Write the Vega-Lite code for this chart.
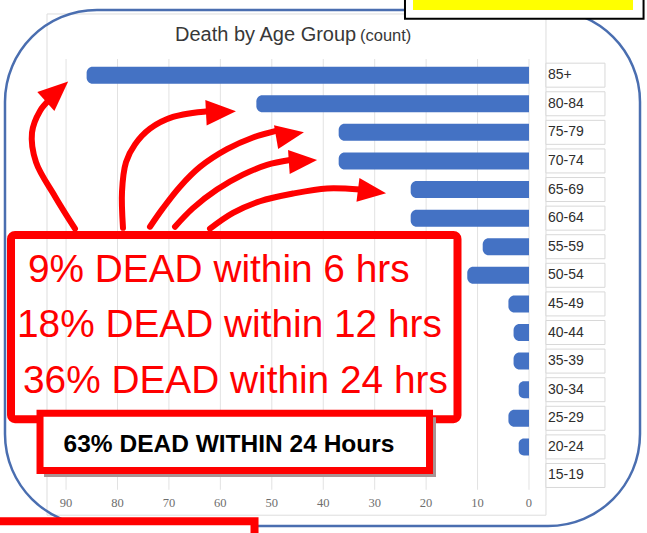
{
  "$schema": "https://vega.github.io/schema/vega-lite/v6.json",
  "width": 647,
  "height": 533,
  "autosize": "none",
  "padding": 0,
  "background": "white",
  "config": {"view": {"stroke": null}},
  "datasets": {
    "deaths": [
      {"group": "85+", "rank": 1, "deaths": 86},
      {"group": "80-84", "rank": 2, "deaths": 53},
      {"group": "75-79", "rank": 3, "deaths": 37},
      {"group": "70-74", "rank": 4, "deaths": 37},
      {"group": "65-69", "rank": 5, "deaths": 23},
      {"group": "60-64", "rank": 6, "deaths": 23},
      {"group": "55-59", "rank": 7, "deaths": 9},
      {"group": "50-54", "rank": 8, "deaths": 12},
      {"group": "45-49", "rank": 9, "deaths": 4},
      {"group": "40-44", "rank": 10, "deaths": 3},
      {"group": "35-39", "rank": 11, "deaths": 3},
      {"group": "30-34", "rank": 12, "deaths": 2},
      {"group": "25-29", "rank": 13, "deaths": 4},
      {"group": "20-24", "rank": 14, "deaths": 2},
      {"group": "15-19", "rank": 15, "deaths": 0}
    ],
    "ticks": [
      {"v": 0}, {"v": 10}, {"v": 20}, {"v": 30}, {"v": 40},
      {"v": 50}, {"v": 60}, {"v": 70}, {"v": 80}, {"v": 90}
    ]
  },
  "layer": [
    {
      "data": {"values": [{"x": 93.70, "x2": -3.30, "y": -1.14, "y2": 16.39}]},
      "mark": {"type": "rect", "fill": "white", "stroke": "#dddddd", "strokeWidth": 1},
      "encoding": {
        "x": {"field": "x", "type": "quantitative", "scale": {"domain": [-22.94, 102.84], "reverse": true, "nice": false, "zero": false}, "axis": null},
        "x2": {"field": "x2"},
        "y": {"field": "y", "type": "quantitative", "scale": {"domain": [-1.4537, 16.837], "reverse": true, "nice": false, "zero": false}, "axis": null},
        "y2": {"field": "y2"}
      }
    },
    {
      "data": {"name": "ticks"},
      "mark": {"type": "rule", "color": "#e2e2e2", "strokeWidth": 1},
      "encoding": {
        "x": {"field": "v", "type": "quantitative", "scale": {"domain": [-22.94, 102.84], "reverse": true, "nice": false, "zero": false}, "axis": null},
        "y": {"datum": 0.434, "type": "quantitative", "scale": {"domain": [-1.4537, 16.837], "reverse": true, "nice": false, "zero": false}, "axis": null},
        "y2": {"datum": 15.5}
      }
    },
    {
      "data": {"name": "deaths"},
      "mark": {"type": "bar", "orient": "horizontal", "size": 17, "color": "#4472c4", "cornerRadiusTopLeft": 6, "cornerRadiusBottomLeft": 6},
      "encoding": {
        "x": {"field": "deaths", "type": "quantitative", "scale": {"domain": [-22.94, 102.84], "reverse": true, "nice": false, "zero": false}, "axis": null},
        "x2": {"datum": 0},
        "y": {"field": "rank", "type": "quantitative", "scale": {"domain": [-1.4537, 16.837], "reverse": true, "nice": false, "zero": false}, "axis": null}
      }
    },
    {
      "data": {"name": "deaths"},
      "mark": {"type": "bar", "orient": "horizontal", "size": 24, "fill": "white", "stroke": "#d8d8d8", "strokeWidth": 1},
      "encoding": {
        "x": {"datum": -3.30, "type": "quantitative", "scale": {"domain": [-22.94, 102.84], "reverse": true, "nice": false, "zero": false}, "axis": null},
        "x2": {"datum": -14.77},
        "y": {"field": "rank", "type": "quantitative", "scale": {"domain": [-1.4537, 16.837], "reverse": true, "nice": false, "zero": false}, "axis": null}
      }
    },
    {
      "data": {"name": "deaths"},
      "mark": {"type": "text", "align": "left", "baseline": "middle", "font": "Liberation Sans", "fontSize": 14, "color": "#2e2e2e"},
      "encoding": {
        "x": {"datum": -3.69, "type": "quantitative", "scale": {"domain": [-22.94, 102.84], "reverse": true, "nice": false, "zero": false}, "axis": null},
        "y": {"field": "rank", "type": "quantitative", "scale": {"domain": [-1.4537, 16.837], "reverse": true, "nice": false, "zero": false}, "axis": null},
        "text": {"field": "group"}
      }
    },
    {
      "data": {"name": "ticks"},
      "mark": {"type": "text", "align": "center", "baseline": "middle", "font": "Liberation Serif", "fontSize": 12.5, "color": "#6e6e6e"},
      "encoding": {
        "x": {"field": "v", "type": "quantitative", "scale": {"domain": [-22.94, 102.84], "reverse": true, "nice": false, "zero": false}, "axis": null},
        "y": {"datum": 15.96, "type": "quantitative", "scale": {"domain": [-1.4537, 16.837], "reverse": true, "nice": false, "zero": false}, "axis": null},
        "text": {"field": "v"}
      }
    },
    {
      "data": {"values": [{"label": "Death by Age Group", "x": 68.82, "y": -0.18}]},
      "mark": {"type": "text", "align": "left", "baseline": "alphabetic", "font": "Liberation Sans", "fontSize": 20, "color": "#383838"},
      "encoding": {
        "x": {"field": "x", "type": "quantitative", "scale": {"domain": [-22.94, 102.84], "reverse": true, "nice": false, "zero": false}, "axis": null},
        "y": {"field": "y", "type": "quantitative", "scale": {"domain": [-1.4537, 16.837], "reverse": true, "nice": false, "zero": false}, "axis": null},
        "text": {"field": "label"}
      }
    },
    {
      "data": {"values": [{"label": "(count)", "x": 32.86, "y": -0.18}]},
      "mark": {"type": "text", "align": "left", "baseline": "alphabetic", "font": "Liberation Sans", "fontSize": 16.5, "color": "#383838"},
      "encoding": {
        "x": {"field": "x", "type": "quantitative", "scale": {"domain": [-22.94, 102.84], "reverse": true, "nice": false, "zero": false}, "axis": null},
        "y": {"field": "y", "type": "quantitative", "scale": {"domain": [-1.4537, 16.837], "reverse": true, "nice": false, "zero": false}, "axis": null},
        "text": {"field": "label"}
      }
    },
    {
      "data": {"values": [{"x": 101.87, "x2": -21.58, "y": -1.28, "y2": 16.77}]},
      "mark": {"type": "rect", "fill": null, "fillOpacity": 0, "stroke": "#4a6eb0", "strokeWidth": 2.5, "cornerRadius": 92},
      "encoding": {
        "x": {"field": "x", "type": "quantitative", "scale": {"domain": [-22.94, 102.84], "reverse": true, "nice": false, "zero": false}, "axis": null},
        "x2": {"field": "x2"},
        "y": {"field": "y", "type": "quantitative", "scale": {"domain": [-1.4537, 16.837], "reverse": true, "nice": false, "zero": false}, "axis": null},
        "y2": {"field": "y2"}
      }
    },
    {
      "data": {"values": [{"x": 100.70, "x2": 13.90, "y": 6.59, "y2": 13.03}]},
      "mark": {"type": "rect", "fill": null, "fillOpacity": 0, "stroke": "#ff0000", "strokeWidth": 8, "cornerRadius": 4},
      "encoding": {
        "x": {"field": "x", "type": "quantitative", "scale": {"domain": [-22.94, 102.84], "reverse": true, "nice": false, "zero": false}, "axis": null},
        "x2": {"field": "x2"},
        "y": {"field": "y", "type": "quantitative", "scale": {"domain": [-1.4537, 16.837], "reverse": true, "nice": false, "zero": false}, "axis": null},
        "y2": {"field": "y2"}
      }
    },
    {
      "data": {"values": [
        {"label": "9% DEAD within 6 hrs", "x": 97.40, "y": 8.22},
        {"label": "18% DEAD within 12 hrs", "x": 99.53, "y": 10.16},
        {"label": "36% DEAD within 24 hrs", "x": 98.37, "y": 12.10}
      ]},
      "mark": {"type": "text", "align": "left", "baseline": "alphabetic", "font": "Liberation Sans", "fontSize": 38.8, "color": "#ff0000"},
      "encoding": {
        "x": {"field": "x", "type": "quantitative", "scale": {"domain": [-22.94, 102.84], "reverse": true, "nice": false, "zero": false}, "axis": null},
        "y": {"field": "y", "type": "quantitative", "scale": {"domain": [-1.4537, 16.837], "reverse": true, "nice": false, "zero": false}, "axis": null},
        "text": {"field": "label"}
      }
    },
    {
      "data": {"values": [
        {"arrow": 1, "i": 1, "x": 88.26, "y": 6.37},
        {"arrow": 1, "i": 2, "x": 92.15, "y": 5.24},
        {"arrow": 1, "i": 3, "x": 95.84, "y": 4.04},
        {"arrow": 1, "i": 4, "x": 96.62, "y": 3.01},
        {"arrow": 1, "i": 5, "x": 95.06, "y": 2.25},
        {"arrow": 1, "i": 6, "x": 93.12, "y": 1.84},
        {"arrow": 2, "i": 1, "x": 78.93, "y": 6.34},
        {"arrow": 2, "i": 2, "x": 79.12, "y": 5.07},
        {"arrow": 2, "i": 3, "x": 78.34, "y": 4.04},
        {"arrow": 2, "i": 4, "x": 76.59, "y": 3.42},
        {"arrow": 2, "i": 5, "x": 73.68, "y": 2.87},
        {"arrow": 2, "i": 6, "x": 69.21, "y": 2.46},
        {"arrow": 2, "i": 7, "x": 62.01, "y": 2.25},
        {"arrow": 3, "i": 1, "x": 73.68, "y": 6.30},
        {"arrow": 3, "i": 2, "x": 71.15, "y": 5.65},
        {"arrow": 3, "i": 3, "x": 67.85, "y": 4.90},
        {"arrow": 3, "i": 4, "x": 63.96, "y": 4.21},
        {"arrow": 3, "i": 5, "x": 58.71, "y": 3.59},
        {"arrow": 3, "i": 6, "x": 53.65, "y": 3.18},
        {"arrow": 3, "i": 7, "x": 48.99, "y": 2.94},
        {"arrow": 4, "i": 1, "x": 68.82, "y": 6.30},
        {"arrow": 4, "i": 2, "x": 65.32, "y": 5.65},
        {"arrow": 4, "i": 3, "x": 60.65, "y": 5.00},
        {"arrow": 4, "i": 4, "x": 55.60, "y": 4.48},
        {"arrow": 4, "i": 5, "x": 50.93, "y": 4.14},
        {"arrow": 4, "i": 6, "x": 46.46, "y": 3.97},
        {"arrow": 5, "i": 1, "x": 62.01, "y": 6.37},
        {"arrow": 5, "i": 2, "x": 57.54, "y": 5.82},
        {"arrow": 5, "i": 3, "x": 52.29, "y": 5.41},
        {"arrow": 5, "i": 4, "x": 45.88, "y": 5.14},
        {"arrow": 5, "i": 5, "x": 39.27, "y": 4.96},
        {"arrow": 5, "i": 6, "x": 32.85, "y": 5.00}
      ]},
      "mark": {"type": "line", "color": "#ff0000", "strokeWidth": 6, "strokeCap": "round", "interpolate": "catmull-rom"},
      "encoding": {
        "x": {"field": "x", "type": "quantitative", "scale": {"domain": [-22.94, 102.84], "reverse": true, "nice": false, "zero": false}, "axis": null},
        "y": {"field": "y", "type": "quantitative", "scale": {"domain": [-1.4537, 16.837], "reverse": true, "nice": false, "zero": false}, "axis": null},
        "detail": {"field": "arrow", "type": "nominal"},
        "order": {"field": "i", "type": "quantitative"}
      }
    },
    {
      "data": {"values": [{"x": 91.76, "y": 1.57}]},
      "mark": {"type": "point", "shape": "M1,0L-1,-0.85L-1,0.85Z", "size": 900, "filled": true, "color": "#ff0000", "opacity": 1, "angle": -42},
      "encoding": {
        "x": {"field": "x", "type": "quantitative", "scale": {"domain": [-22.94, 102.84], "reverse": true, "nice": false, "zero": false}, "axis": null},
        "y": {"field": "y", "type": "quantitative", "scale": {"domain": [-1.4537, 16.837], "reverse": true, "nice": false, "zero": false}, "axis": null}
      }
    },
    {
      "data": {"values": [{"x": 59.88, "y": 2.29}]},
      "mark": {"type": "point", "shape": "M1,0L-1,-0.85L-1,0.85Z", "size": 900, "filled": true, "color": "#ff0000", "opacity": 1, "angle": -3},
      "encoding": {
        "x": {"field": "x", "type": "quantitative", "scale": {"domain": [-22.94, 102.84], "reverse": true, "nice": false, "zero": false}, "axis": null},
        "y": {"field": "y", "type": "quantitative", "scale": {"domain": [-1.4537, 16.837], "reverse": true, "nice": false, "zero": false}, "axis": null}
      }
    },
    {
      "data": {"values": [{"x": 46.46, "y": 3.08}]},
      "mark": {"type": "point", "shape": "M1,0L-1,-0.85L-1,0.85Z", "size": 800, "filled": true, "color": "#ff0000", "opacity": 1, "angle": -10},
      "encoding": {
        "x": {"field": "x", "type": "quantitative", "scale": {"domain": [-22.94, 102.84], "reverse": true, "nice": false, "zero": false}, "axis": null},
        "y": {"field": "y", "type": "quantitative", "scale": {"domain": [-1.4537, 16.837], "reverse": true, "nice": false, "zero": false}, "axis": null}
      }
    },
    {
      "data": {"values": [{"x": 43.94, "y": 4.00}]},
      "mark": {"type": "point", "shape": "M1,0L-1,-0.85L-1,0.85Z", "size": 800, "filled": true, "color": "#ff0000", "opacity": 1, "angle": -4},
      "encoding": {
        "x": {"field": "x", "type": "quantitative", "scale": {"domain": [-22.94, 102.84], "reverse": true, "nice": false, "zero": false}, "axis": null},
        "y": {"field": "y", "type": "quantitative", "scale": {"domain": [-1.4537, 16.837], "reverse": true, "nice": false, "zero": false}, "axis": null}
      }
    },
    {
      "data": {"values": [{"x": 30.52, "y": 5.07}]},
      "mark": {"type": "point", "shape": "M1,0L-1,-0.85L-1,0.85Z", "size": 800, "filled": true, "color": "#ff0000", "opacity": 1, "angle": 7},
      "encoding": {
        "x": {"field": "x", "type": "quantitative", "scale": {"domain": [-22.94, 102.84], "reverse": true, "nice": false, "zero": false}, "axis": null},
        "y": {"field": "y", "type": "quantitative", "scale": {"domain": [-1.4537, 16.837], "reverse": true, "nice": false, "zero": false}, "axis": null}
      }
    },
    {
      "data": {"values": [{"x": 94.28, "x2": 18.08, "y": 12.96, "y2": 15.05}]},
      "mark": {"type": "rect", "fill": "#a89494", "stroke": null},
      "encoding": {
        "x": {"field": "x", "type": "quantitative", "scale": {"domain": [-22.94, 102.84], "reverse": true, "nice": false, "zero": false}, "axis": null},
        "x2": {"field": "x2"},
        "y": {"field": "y", "type": "quantitative", "scale": {"domain": [-1.4537, 16.837], "reverse": true, "nice": false, "zero": false}, "axis": null},
        "y2": {"field": "y2"}
      }
    },
    {
      "data": {"values": [{"x": 95.06, "x2": 19.34, "y": 12.82, "y2": 14.83}]},
      "mark": {"type": "rect", "fill": "white", "stroke": "#ff0000", "strokeWidth": 7},
      "encoding": {
        "x": {"field": "x", "type": "quantitative", "scale": {"domain": [-22.94, 102.84], "reverse": true, "nice": false, "zero": false}, "axis": null},
        "x2": {"field": "x2"},
        "y": {"field": "y", "type": "quantitative", "scale": {"domain": [-1.4537, 16.837], "reverse": true, "nice": false, "zero": false}, "axis": null},
        "y2": {"field": "y2"}
      }
    },
    {
      "data": {"values": [{"label": "63% DEAD WITHIN 24 Hours", "x": 58.32, "y": 13.92}]},
      "mark": {"type": "text", "align": "center", "baseline": "middle", "font": "Liberation Sans", "fontWeight": "bold", "fontSize": 24.5, "color": "#000000"},
      "encoding": {
        "x": {"field": "x", "type": "quantitative", "scale": {"domain": [-22.94, 102.84], "reverse": true, "nice": false, "zero": false}, "axis": null},
        "y": {"field": "y", "type": "quantitative", "scale": {"domain": [-1.4537, 16.837], "reverse": true, "nice": false, "zero": false}, "axis": null},
        "text": {"field": "label"}
      }
    },
    {
      "data": {"values": [{"x": 24.11, "x2": -22.27, "y": -2.14, "y2": -0.97}]},
      "mark": {"type": "rect", "fill": "white", "stroke": "#000000", "strokeWidth": 2},
      "encoding": {
        "x": {"field": "x", "type": "quantitative", "scale": {"domain": [-22.94, 102.84], "reverse": true, "nice": false, "zero": false}, "axis": null},
        "x2": {"field": "x2"},
        "y": {"field": "y", "type": "quantitative", "scale": {"domain": [-1.4537, 16.837], "reverse": true, "nice": false, "zero": false}, "axis": null},
        "y2": {"field": "y2"}
      }
    },
    {
      "data": {"values": [{"x": 22.55, "x2": -20.22, "y": -1.80, "y2": -1.28}]},
      "mark": {"type": "rect", "fill": "#ffff00", "stroke": null},
      "encoding": {
        "x": {"field": "x", "type": "quantitative", "scale": {"domain": [-22.94, 102.84], "reverse": true, "nice": false, "zero": false}, "axis": null},
        "x2": {"field": "x2"},
        "y": {"field": "y", "type": "quantitative", "scale": {"domain": [-1.4537, 16.837], "reverse": true, "nice": false, "zero": false}, "axis": null},
        "y2": {"field": "y2"}
      }
    },
    {
      "data": {"values": [{"x": 104.78, "x2": 53.36, "y": 16.60, "y2": 17.76}]},
      "mark": {"type": "rect", "fill": "white", "stroke": "#ff0000", "strokeWidth": 8},
      "encoding": {
        "x": {"field": "x", "type": "quantitative", "scale": {"domain": [-22.94, 102.84], "reverse": true, "nice": false, "zero": false}, "axis": null},
        "x2": {"field": "x2"},
        "y": {"field": "y", "type": "quantitative", "scale": {"domain": [-1.4537, 16.837], "reverse": true, "nice": false, "zero": false}, "axis": null},
        "y2": {"field": "y2"}
      }
    }
  ]
}
